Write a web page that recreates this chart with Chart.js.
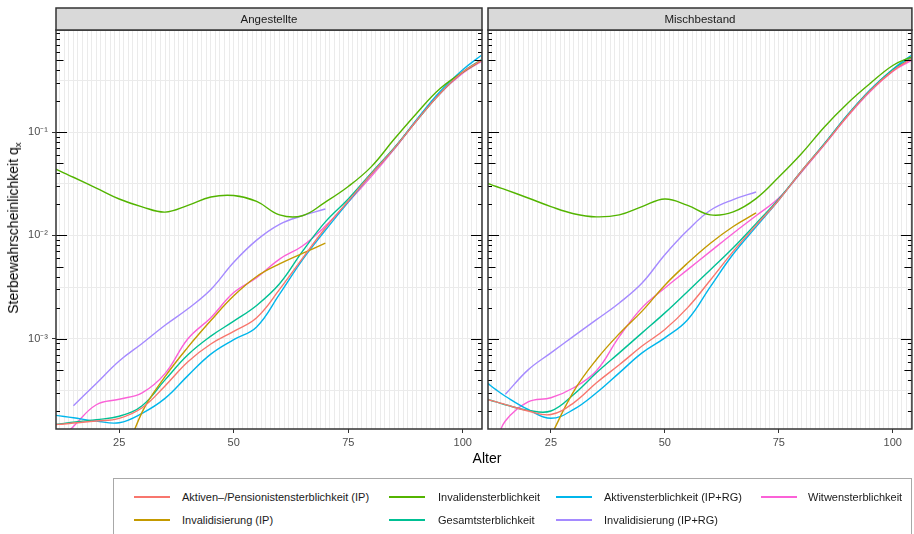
<!DOCTYPE html>
<html>
<head>
<meta charset="utf-8">
<script src="https://cdn.jsdelivr.net/npm/chart.js@4.4.1/dist/chart.umd.min.js"></script>
<style>
  body { margin: 0; background: #fff; font-family: "Liberation Sans", Arial, sans-serif; }
  #wrap { position: relative; width: 914px; height: 534px; overflow: hidden; }
  canvas { position: absolute; top: 0; }
  #c1 { left: 0; }
  #c2 { left: 486px; }
  .ytitle { position: absolute; left: 14px; top: 228px; transform: translate(-50%, -50%) rotate(-90deg);
            font-size: 14px; white-space: nowrap; color: #000; }
  .ytitle sub { font-size: 70%; vertical-align: -3px; }
  .xtitle { position: absolute; left: 487px; top: 458px; transform: translate(-50%, -50%); font-size: 14px; color: #000; }
  #legend { position: absolute; left: 113px; top: 478px; width: 799px; height: 70px;
            border: 1px solid #a8a8a8; box-sizing: border-box; }
  .key { position: absolute; height: 2px; width: 36px; }
  .lab { position: absolute; font-size: 11px; transform: translateY(-50%); white-space: nowrap; color: #1a1a1a; }
</style>
</head>
<body>
<div id="wrap">
  <canvas id="c1" width="486" height="451"></canvas>
  <canvas id="c2" width="428" height="451"></canvas>
  <div class="ytitle">Sterbewahrscheinlichkeit q<sub>x</sub></div>
  <div class="xtitle">Alter</div>
  <div id="legend"></div>
</div>
<script>
const ages = [11, 13, 15, 20, 25, 30, 35, 40, 45, 50, 55, 60, 65, 70, 75, 80, 85, 90, 95, 100, 104];

const seriesNames = [
  'Aktiven–/Pensionistensterblichkeit (IP)',
  'Invalidisierung (IP)',
  'Invalidensterblichkeit',
  'Gesamtsterblichkeit',
  'Aktivensterblichkeit (IP+RG)',
  'Invalidisierung (IP+RG)',
  'Witwensterblichkeit'
];
const seriesColors = ['#F8766D', '#C49A00', '#53B400', '#00C094', '#00B6EB', '#A58AFF', '#FB61D7'];
const panelTitles = ['Angestellte', 'Mischbestand'];
const xLabels = [25, 50, 75, 100];
const yLabels = { '-3': '10⁻³', '-2': '10⁻²', '-1': '10⁻¹' };

// Angestellte
const angAktivIP = [1.48e-4, 1.50e-4, 1.53e-4, 1.60e-4, 1.70e-4, 2.15e-4, 3.5e-4, 6.0e-4, 8.9e-4, 1.18e-3, 1.6e-3, 3.0e-3, 6.0e-3, 0.0118, 0.0215, 0.039, 0.069, 0.13, 0.235, 0.38, 0.49];
const angInvalIP = [null, null, null, null, 5.1e-5, 1.95e-4, 4.3e-4, 8.3e-4, 1.5e-3, 2.6e-3, 4.0e-3, 5.3e-3, 6.7e-3, 8.4e-3, null, null, null, null, null, null, null];
const angInvalid = [0.044, 0.040, 0.0365, 0.0287, 0.0225, 0.0189, 0.0168, 0.0195, 0.0235, 0.0243, 0.0213, 0.0158, 0.0155, 0.021, 0.0297, 0.046, 0.085, 0.153, 0.262, 0.38, 0.49];
const angGesamt = [1.48e-4, 1.52e-4, 1.56e-4, 1.65e-4, 1.78e-4, 2.25e-4, 4.0e-4, 7.0e-4, 1.06e-3, 1.48e-3, 2.1e-3, 3.4e-3, 7.0e-3, 0.0135, 0.0225, 0.04, 0.07, 0.13, 0.235, 0.38, 0.5];
const angAktivRG = [1.82e-4, 1.77e-4, 1.72e-4, 1.6e-4, 1.54e-4, 1.9e-4, 2.65e-4, 4.4e-4, 7.1e-4, 9.8e-4, 1.3e-3, 2.7e-3, 5.8e-3, 0.0112, 0.021, 0.039, 0.069, 0.133, 0.245, 0.4, 0.55];
const angInvalRG = [null, null, 2.25e-4, 3.7e-4, 6.1e-4, 9.0e-4, 1.35e-3, 1.95e-3, 3.0e-3, 5.5e-3, 9.0e-3, 0.0128, 0.0155, 0.018, null, null, null, null, null, null, null];
const angWitwen = [null, 1.15e-4, 1.42e-4, 2.3e-4, 2.6e-4, 3.0e-4, 4.6e-4, 1.0e-3, 1.6e-3, 2.8e-3, 3.9e-3, 5.9e-3, 7.9e-3, 0.0123, 0.021, 0.037, 0.068, 0.13, 0.235, 0.37, 0.48];

// Mischbestand
const mixAktivIP = [2.58e-4, 2.45e-4, 2.31e-4, 2.0e-4, 1.85e-4, 2.4e-4, 3.75e-4, 5.6e-4, 8.5e-4, 1.23e-3, 2.0e-3, 3.7e-3, 7.0e-3, 0.0125, 0.022, 0.042, 0.076, 0.142, 0.25, 0.39, 0.51];
const mixInvalIP = [null, null, null, null, 1.15e-4, 3.1e-4, 6.3e-4, 1.12e-3, 1.85e-3, 3.3e-3, 5.4e-3, 8.4e-3, 0.0122, 0.0165, null, null, null, null, null, null, null];
const mixInvalid = [0.0321, 0.0297, 0.0277, 0.023, 0.019, 0.0162, 0.0151, 0.0158, 0.019, 0.0225, 0.0195, 0.0158, 0.0169, 0.0227, 0.0367, 0.062, 0.112, 0.188, 0.294, 0.44, 0.53];
const mixGesamt = [2.6e-4, 2.45e-4, 2.3e-4, 2.03e-4, 2.0e-4, 2.89e-4, 4.68e-4, 7.3e-4, 1.14e-3, 1.78e-3, 2.87e-3, 4.66e-3, 7.6e-3, 0.013, 0.0225, 0.042, 0.077, 0.144, 0.252, 0.4, 0.52];
const mixAktivRG = [3.75e-4, 3.2e-4, 2.78e-4, 2.07e-4, 1.7e-4, 2.07e-4, 3.0e-4, 4.68e-4, 7.3e-4, 1.02e-3, 1.53e-3, 3.2e-3, 6.6e-3, 0.0121, 0.022, 0.042, 0.077, 0.145, 0.255, 0.405, 0.55];
const mixInvalRG = [null, null, 2.9e-4, 5.0e-4, 7.3e-4, 1.06e-3, 1.53e-3, 2.22e-3, 3.46e-3, 6.5e-3, 0.0112, 0.0175, 0.0222, 0.0263, null, null, null, null, null, null, null];
const mixWitwen = [null, 1.0e-4, 1.6e-4, 2.45e-4, 2.69e-4, 3.36e-4, 4.9e-4, 1.05e-3, 2.0e-3, 3.1e-3, 4.66e-3, 7.0e-3, 0.0105, 0.0155, 0.023, 0.041, 0.075, 0.14, 0.245, 0.385, 0.49];

const angSeries = [angAktivIP, angInvalIP, angInvalid, angGesamt, angAktivRG, angInvalRG, angWitwen];
const mixSeries = [mixAktivIP, mixInvalIP, mixInvalid, mixGesamt, mixAktivRG, mixInvalRG, mixWitwen];

Chart.defaults.font.family = '"Liberation Sans", Arial, sans-serif';
Chart.defaults.font.size = 11;
Chart.defaults.color = '#4D4D4D';

// strip, panel border and log ticks on both sides
const panelPlugin = {
  id: 'panel',
  afterDatasetsDraw(chart, args, opts) {
    const ctx = chart.ctx, a = chart.chartArea, y = chart.scales.y;
    ctx.save();
    ctx.strokeStyle = '#000';
    ctx.lineWidth = 1.1;
    for (let e = -4; e <= 0; e++) {
      for (let k = 1; k <= 9; k++) {
        const v = k * Math.pow(10, e);
        if (v < y.min || v > y.max) continue;
        const py = Math.round(y.getPixelForValue(v)) + 0.5;
        const len = k === 1 ? 11 : (k === 5 ? 7.5 : 4);
        ctx.beginPath();
        ctx.moveTo(a.left, py); ctx.lineTo(a.left + len, py);
        ctx.moveTo(a.right, py); ctx.lineTo(a.right - len, py);
        ctx.stroke();
      }
    }
    ctx.strokeStyle = '#333';
    ctx.lineWidth = 1.5;
    ctx.strokeRect(a.left, a.top, a.right - a.left, a.bottom - a.top);
    ctx.fillStyle = '#D9D9D9';
    ctx.fillRect(a.left, 8, a.right - a.left, a.top - 8);
    ctx.strokeRect(a.left, 8, a.right - a.left, a.top - 8);
    ctx.fillStyle = '#1A1A1A';
    ctx.font = '11.5px "Liberation Sans", Arial, sans-serif';
    ctx.textAlign = 'center';
    ctx.textBaseline = 'middle';
    ctx.fillText(opts.title, (a.left + a.right) / 2, (8 + a.top) / 2 + 0.5);
    ctx.restore();
  }
};

function makeChart(id, series, title, showY) {
  const datasets = series.map((vals, i) => ({
    label: seriesNames[i],
    data: vals.map((v, j) => ({ x: ages[j], y: v })),
    borderColor: seriesColors[i],
    borderWidth: 1.4,
    pointRadius: 0,
    fill: false,
    spanGaps: false,
    tension: 0.4
  }));
  return new Chart(document.getElementById(id), {
    type: 'line',
    data: { datasets },
    plugins: [panelPlugin],
    options: {
      responsive: false,
      animation: false,
      events: [],
      layout: { padding: showY ? { top: 30, right: 4, left: 0, bottom: 0 } : { top: 30, right: 2, left: 2, bottom: 0 } },
      plugins: { legend: { display: false }, tooltip: { enabled: false }, panel: { title } },
      scales: {
        x: {
          type: 'linear', min: 11.2, max: 104.2,
          afterBuildTicks: s => {
            const t = [];
            for (let v = 12; v <= 104; v++) t.push({ value: v });
            s.ticks = t;
          },
          afterFit: s => { s.height = 22; },
          ticks: { autoSkip: false, maxRotation: 0, padding: 3, color: '#4D4D4D',
                   callback: v => (xLabels.includes(v) ? String(v) : '') },
          grid: { color: '#EBEBEB', lineWidth: 1, tickLength: 4,
                  tickColor: c => (c.tick && xLabels.includes(c.tick.value) ? '#333' : 'rgba(0,0,0,0)') },
          border: { display: false }
        },
        y: {
          type: 'logarithmic', min: 1.34e-4, max: 0.97,
          afterBuildTicks: s => {
            s.ticks = [-3.5, -3, -2.5, -2, -1.5, -1, -0.5].map(e => ({ value: Math.pow(10, e) }));
          },
          afterFit: s => { s.width = showY ? 56 : 0; },
          ticks: { display: showY, padding: 4, color: '#4D4D4D',
                   callback: v => {
                     const e = Math.log10(v);
                     return Math.abs(e - Math.round(e)) < 1e-6 ? (yLabels[String(Math.round(e))] || '') : '';
                   } },
          grid: { color: '#EBEBEB', lineWidth: 1, drawTicks: showY, tickLength: 4,
                  tickColor: c => {
                    if (!c.tick) return 'rgba(0,0,0,0)';
                    const e = Math.log10(c.tick.value);
                    return Math.abs(e - Math.round(e)) < 1e-6 ? '#333' : 'rgba(0,0,0,0)';
                  } },
          border: { display: false }
        }
      }
    }
  });
}

makeChart('c1', angSeries, panelTitles[0], true);
makeChart('c2', mixSeries, panelTitles[1], false);

// legend, filled column by column in two rows
const keyX = [20, 275, 442, 647];
const labX = [68, 324, 490, 694];
const rowY = [18, 41];
const legend = document.getElementById('legend');
seriesNames.forEach((name, i) => {
  const col = Math.floor(i / 2), row = i % 2;
  const key = document.createElement('div');
  key.className = 'key';
  key.style.left = keyX[col] + 'px';
  key.style.top = (rowY[row] - 1) + 'px';
  key.style.background = seriesColors[i];
  legend.appendChild(key);
  const lab = document.createElement('div');
  lab.className = 'lab';
  lab.style.left = labX[col] + 'px';
  lab.style.top = rowY[row] + 'px';
  lab.textContent = name;
  legend.appendChild(lab);
});
</script>
</body>
</html>
